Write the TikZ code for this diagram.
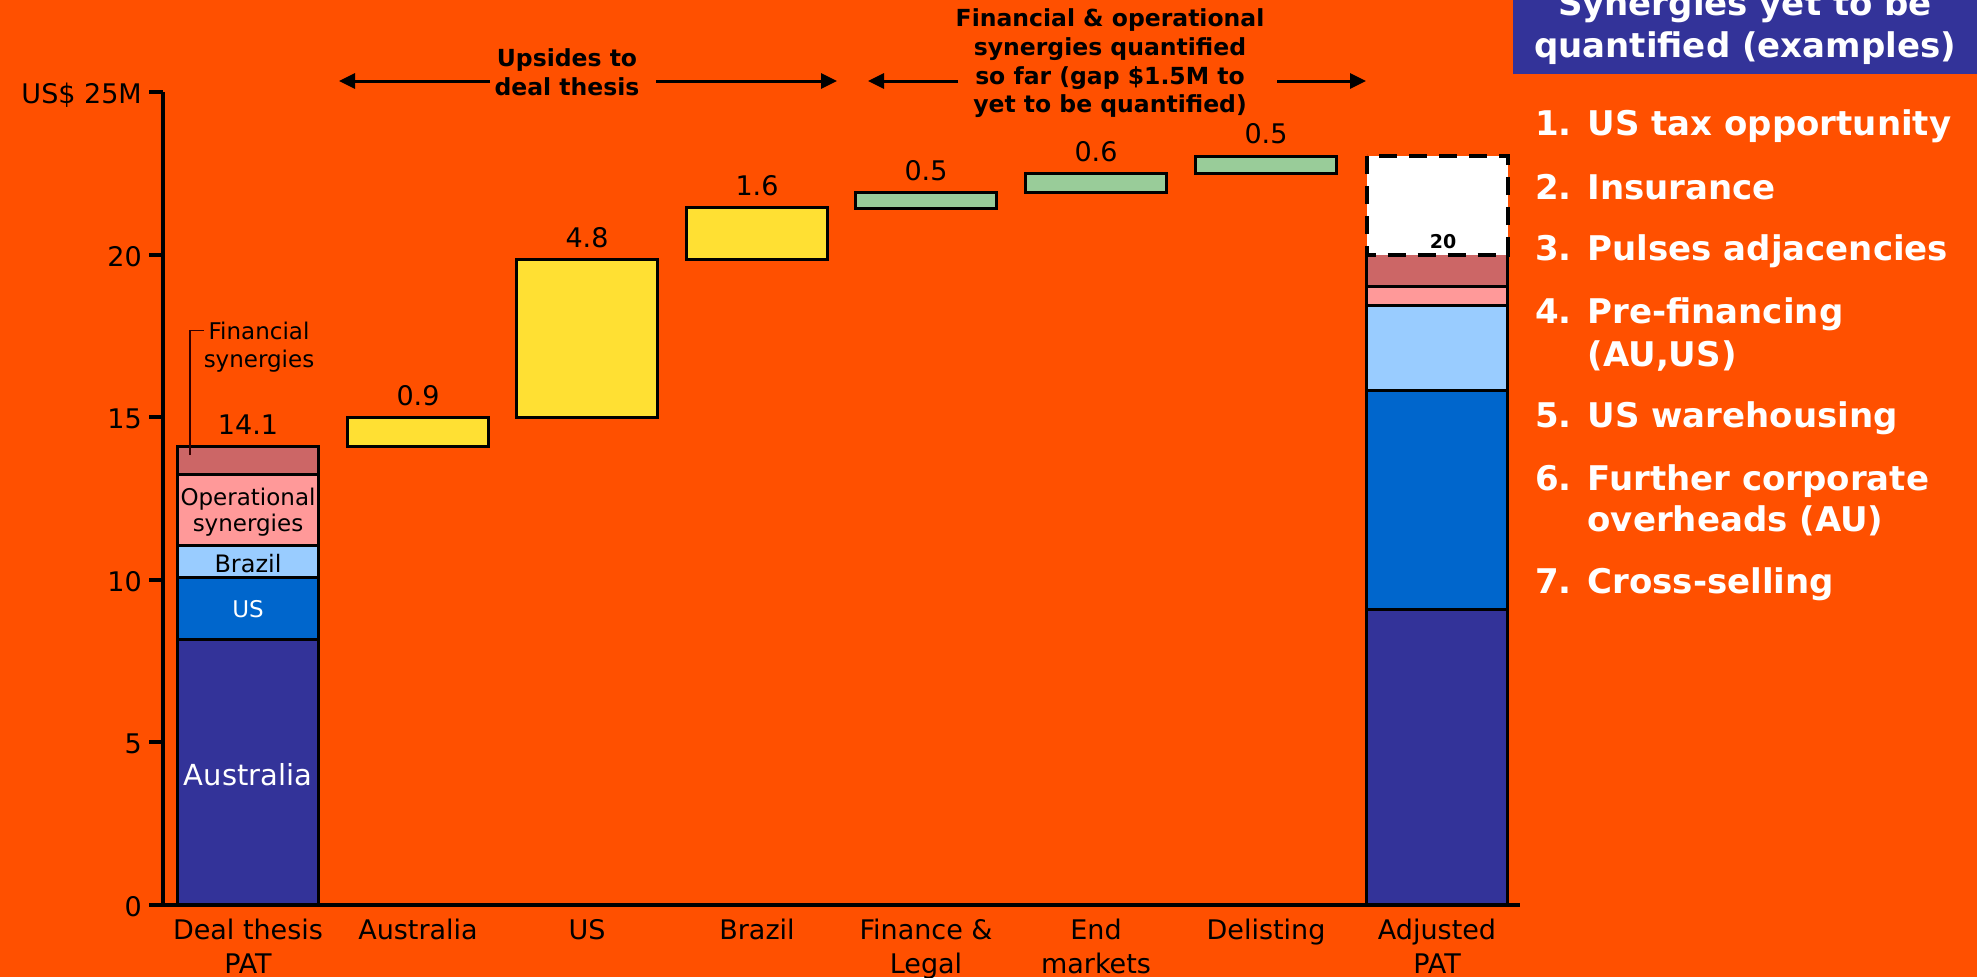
\documentclass[tikz,border=0pt]{standalone}
\usepackage{fontspec}
\setmainfont{DejaVu Sans}
\usetikzlibrary{arrows.meta}
\definecolor{bg}{RGB}{255,80,0}
\definecolor{hdrblue}{RGB}{51,51,153}
\definecolor{finsyn}{RGB}{204,102,102}
\definecolor{opsyn}{RGB}{255,153,153}
\definecolor{brz}{RGB}{153,204,255}
\definecolor{usb}{RGB}{0,102,204}
\definecolor{aus}{RGB}{51,51,153}
\definecolor{yel}{RGB}{255,224,51}
\definecolor{grn}{RGB}{153,204,153}
\begin{document}
\begin{tikzpicture}[x=1pt,y=-1pt,
  barseg/.style={draw=black,line width=3pt},
  axisline/.style={line width=4pt,draw=black},
  vallbl/.style={font=\fontsize{27}{32}\selectfont,anchor=base,inner sep=0pt},
  catlbl/.style={font=\fontsize{27}{32}\selectfont,anchor=base,inner sep=0pt},
  ticklbl/.style={font=\fontsize{27}{32}\selectfont,anchor=base east,inner sep=0pt},
  headlbl/.style={font=\bfseries\fontsize{23.5}{29}\selectfont,anchor=base,inner sep=0pt},
  listitem/.style={font=\bfseries\fontsize{34}{42}\selectfont,text=white,anchor=base west,inner sep=0pt},
  hdrtxt/.style={font=\bfseries\fontsize{34}{42}\selectfont,text=white,anchor=base,inner sep=0pt},
  inlbl/.style={font=\fontsize{23}{27}\selectfont,anchor=base,inner sep=0pt},
  harrow/.style={line width=3pt,-{Triangle[length=16pt,width=15pt]}},
]
\useasboundingbox (0,0) rectangle (1977,977);
\fill[bg] (0,0) rectangle (1977,977);

% header box of right panel
\fill[hdrblue] (1513,-10) rectangle (1987,74);
\node[hdrtxt] (hdrA) at (1745,15) {Synergies yet to be};
\node[hdrtxt] (hdrB) at (1745,57) {quantified (examples)};

% list
\node[listitem] (i1) at (1535,135) {1. US tax opportunity};
\node[listitem] (i2) at (1535,199) {2. Insurance};
\node[listitem] (i3) at (1535,260) {3. Pulses adjacencies};
\node[listitem] (i4a) at (1535,323) {4. Pre-financing};
\node[listitem] (i4b) at (1535,366) {\phantom{4. }(AU,US)};
\node[listitem] (i5) at (1535,427) {5. US warehousing};
\node[listitem] (i6a) at (1535,490) {6. Further corporate};
\node[listitem] (i6b) at (1535,531) {\phantom{6. }overheads (AU)};
\node[listitem] (i7) at (1535,593) {7. Cross-selling};

% bar 1: Deal thesis PAT
\filldraw[barseg,fill=aus] (177.5,905) rectangle (318.5,639);
\filldraw[barseg,fill=usb] (177.5,639) rectangle (318.5,577);
\filldraw[barseg,fill=brz] (177.5,577) rectangle (318.5,545);
\filldraw[barseg,fill=opsyn] (177.5,545) rectangle (318.5,474);
\filldraw[barseg,fill=finsyn] (177.5,474) rectangle (318.5,446);
\node[inlbl,text=white,font=\fontsize{29}{32}\selectfont] (tAus) at (248,785) {Australia};
\node[inlbl,text=white] (tUS) at (248,617) {US};
\node[inlbl,font=\fontsize{24}{27}\selectfont] (tBr) at (248,572) {Brazil};
\node[inlbl] (tOp1) at (248,505) {Operational};
\node[inlbl] (tOp2) at (248,531) {synergies};

% financial synergies annotation
\node[inlbl] (finA) at (259,339) {Financial};
\node[inlbl] (finB) at (259,367) {synergies};
\coordinate (finpt) at (190,455);
\draw[line width=1.2pt,draw=black!80!red] (finpt) |- ([xshift=-4pt]finA.west);

% waterfall bars
\filldraw[barseg,fill=yel] (347.5,446) rectangle (488.5,417);
\filldraw[barseg,fill=yel] (516.5,417) rectangle (657.5,259);
\filldraw[barseg,fill=yel] (686.5,259) rectangle (827.5,207);
\filldraw[barseg,fill=grn] (855.5,208) rectangle (996.5,192);
\filldraw[barseg,fill=grn] (1025.5,192) rectangle (1166.5,173);
\filldraw[barseg,fill=grn] (1195.5,173) rectangle (1336.5,156);

% bar 8: Adjusted PAT
\fill[aus] (1366.5,905) rectangle (1507.5,609);
\fill[usb] (1366.5,609) rectangle (1507.5,390);
\fill[brz] (1366.5,390) rectangle (1507.5,305);
\fill[opsyn] (1366.5,305) rectangle (1507.5,286);
\fill[finsyn] (1366.5,286) rectangle (1507.5,255);
\draw[barseg] (1366.5,255) -- (1366.5,905) -- (1507.5,905) -- (1507.5,255);
\foreach \yy in {286,305,390,609} \draw[barseg] (1366.5,\yy) -- (1507.5,\yy);
\filldraw[fill=white,draw=black,line width=4pt,dash pattern=on 18pt off 12pt] (1366.5,156) rectangle (1507.5,255);
\node[inlbl,font=\bfseries\fontsize{19}{22}\selectfont] (t20) at (1443,248) {20};

% value labels
\node[vallbl] (v1) at (248,434) {14.1};
\node[vallbl] (v2) at (418,405) {0.9};
\node[vallbl] (v3) at (587,247) {4.8};
\node[vallbl] (v4) at (757,195) {1.6};
\node[vallbl] (v5) at (926,180) {0.5};
\node[vallbl] (v6) at (1096,161) {0.6};
\node[vallbl] (v7) at (1266,143) {0.5};

% axes
\draw[axisline] (163,92) -- (163,905);
\draw[axisline] (149,905) -- (1520,905);
\foreach \yy in {905,742.4,579.8,417.2,254.6,92} \draw[axisline] (149,\yy) -- (163,\yy);
\node[ticklbl] (y0) at (142,916) {0};
\node[ticklbl] (y5) at (142,753) {5};
\node[ticklbl] (y10) at (142,591) {10};
\node[ticklbl] (y15) at (142,428) {15};
\node[ticklbl] (y20) at (142,266) {20};
\node[ticklbl] (y25) at (142,103) {US\$ 25M};

% category labels
\node[catlbl] (c1a) at (248,939) {Deal thesis};
\node[catlbl] (c1b) at (248,973) {PAT};
\node[catlbl] (c2) at (418,939) {Australia};
\node[catlbl] (c3) at (587,939) {US};
\node[catlbl] (c4) at (757,939) {Brazil};
\node[catlbl] (c5a) at (926,939) {Finance \&};
\node[catlbl] (c5b) at (926,973) {Legal};
\node[catlbl] (c6a) at (1096,939) {End};
\node[catlbl] (c6b) at (1096,973) {markets};
\node[catlbl] (c7) at (1266,939) {Delisting};
\node[catlbl] (c8a) at (1437,939) {Adjusted};
\node[catlbl] (c8b) at (1437,973) {PAT};

% top annotations
\node[headlbl] (up1) at (567,66) {Upsides to};
\node[headlbl] (up2) at (567,95) {deal thesis};
\coordinate (upLs) at (490,81);
\coordinate (upLe) at (339,81);
\coordinate (upRs) at (656,81);
\coordinate (upRe) at (837,81);
\draw[harrow] (upLs) -- (upLe);
\draw[harrow] (upRs) -- (upRe);

\node[headlbl] (fo1) at (1110,27) {Financial \& operational};
\node[headlbl] (fo2) at (1110,55.5) {synergies quantified};
\node[headlbl] (fo3) at (1110,84) {so far (gap \$1.5M to};
\node[headlbl] (fo4) at (1110,112.5) {yet to be quantified)};
\coordinate (foLs) at (958,81);
\coordinate (foLe) at (868,81);
\coordinate (foRs) at (1277,81);
\coordinate (foRe) at (1366,81);
\draw[harrow] (foLs) -- (foLe);
\draw[harrow] (foRs) -- (foRe);
\end{tikzpicture}
\end{document}
